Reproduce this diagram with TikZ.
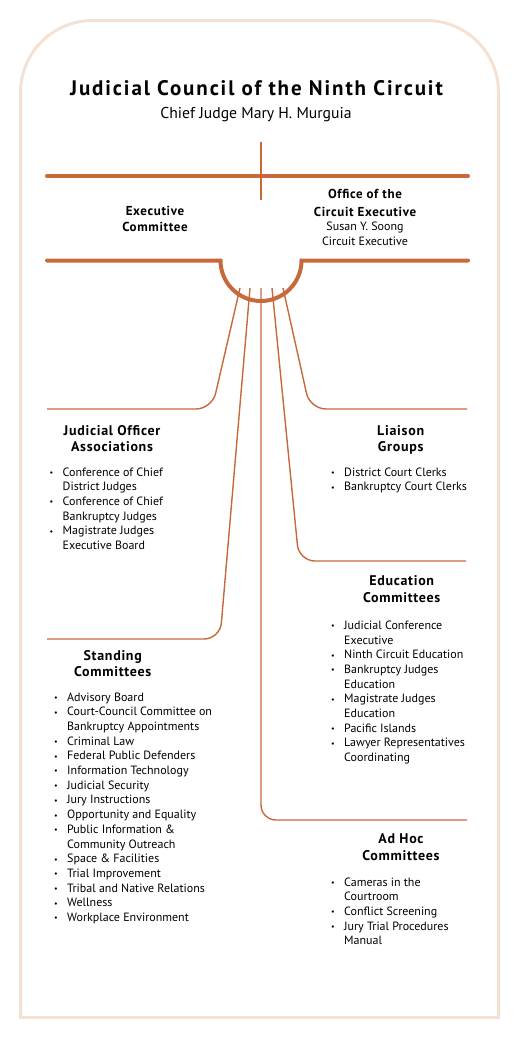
\documentclass[tikz,border=0pt]{standalone}
\usepackage{fontspec}
\setmainfont{PT Sans}
\newfontfamily\headfont{PT Sans}[LetterSpace=5]
\newfontfamily\titlefont{PT Sans}[LetterSpace=9]
\usetikzlibrary{positioning}
\definecolor{rust}{HTML}{C8693A}
\definecolor{peach}{HTML}{F3E2D4}
\newcommand{\bul}{\makebox[13pt][l]{\raisebox{0.6pt}{\fontsize{8}{8}\selectfont\textbullet}}}
\newcommand{\orglist}[1]{\begin{tabular}[t]{@{}l@{}l@{}}#1\end{tabular}}
\newcommand{\orghead}[1]{\begin{tabular}[t]{@{}c@{}}#1\end{tabular}}
\tikzset{
	headtext/.style={font=\headfont\fontsize{14}{16.8}\selectfont\bfseries, anchor=base, inner sep=0pt}
}
\tikzset{
	listtext/.style={font=\fontsize{12}{14.7}\selectfont, anchor=base west, inner sep=0pt}
}
\tikzset{
	thickrule/.style={draw=rust, line width=4pt, line cap=round}
}
\tikzset{
	branch/.style={draw=rust, line width=1.4pt, rounded corners=16pt}
}
\begin{document}
\begin{tikzpicture}[x=1pt,y=-1pt]
\useasboundingbox (0,0) rectangle (526,1063);

% frame
\draw[peach, line width=3pt, rounded corners=72pt] (20.5,1017.5) -- (20.5,20.5) -- (498.5,20.5) -- (498.5,1017.5);
\draw[peach, line width=3pt, line cap=rect] (20.5,1017.5) -- (498.5,1017.5);

\node[font=\titlefont\fontsize{21}{24}\selectfont\bfseries, anchor=base, inner sep=0pt] (council) at (256.5,95) {Judicial Council of the Ninth Circuit};
\node[font=\fontsize{15.7}{18}\selectfont, anchor=base, inner sep=0pt] (chief) at (256,118.3) {Chief Judge Mary H. Murguia};

\coordinate (stemT) at (261,142);
\coordinate (stemB) at (261,200);
\coordinate (ruleAw) at (47,176);
\coordinate (ruleAe) at (468,176);
\draw[rust, line width=1.4pt] (stemT) -- (stemB);
\draw[thickrule] (ruleAw) -- (ruleAe);

\node[headtext, font=\headfont\fontsize{13}{16.7}\selectfont\bfseries] (exec) at (155,215) {\orghead{Executive\\Committee}};
\node[headtext, font=\headfont\fontsize{13}{17.3}\selectfont\bfseries] (office) at (365,198.7) {\orghead{Office of the\\Circuit Executive\\[-2.6pt]
  {\normalfont\fontsize{12}{14.7}\selectfont Susan Y. Soong}\\[-2.6pt]
  {\normalfont\fontsize{12}{14.7}\selectfont Circuit Executive}}};

\coordinate (ruleBw) at (47,260.5);
\coordinate (cupL) at (220.5,260.5);
\coordinate (ruleBe) at (468,260.5);
\draw[thickrule] (ruleBw) -- (cupL) arc[start angle=180, end angle=360, radius=40.5pt] -- (ruleBe);

\coordinate (hA) at (240,288);
\coordinate (hB) at (250,288);
\coordinate (hC) at (261,288);
\coordinate (hD) at (272,288);
\coordinate (hE) at (283,288);
\coordinate (kA) at (212,409);
\coordinate (kB) at (220,639);
\coordinate (kC) at (261,820);
\coordinate (kD) at (299,561);
\coordinate (kE) at (310,409);
\coordinate (eA) at (47,409);
\coordinate (eB) at (47,639);
\coordinate (eC) at (467,820);
\coordinate (eD) at (466,561);
\coordinate (eE) at (467,409);

\draw[branch] (hA) -- (kA) -- (eA);
\draw[branch] (hB) -- (kB) -- (eB);
\draw[branch, rounded corners=15pt] (hC) -- (kC) -- (eC);
\draw[branch] (hD) -- (kD) -- (eD);
\draw[branch] (hE) -- (kE) -- (eE);

\node[headtext] (joaHead) at (112,435) {\orghead{Judicial Officer\\Associations}};
\node[listtext] (joaList) at (49.5,476) {\orglist{\bul & Conference of Chief\\ & District Judges\\ \bul & Conference of Chief\\ & Bankruptcy Judges\\ \bul & Magistrate Judges\\ & Executive Board}};

\node[headtext] (liaHead) at (400.7,435) {\orghead{Liaison\\Groups}};
\node[listtext] (liaList) at (331,476) {\orglist{\bul & District Court Clerks\\ \bul & Bankruptcy Court Clerks}};

\node[headtext] (eduHead) at (401.7,585.7) {\orghead{Education\\Committees}};
\node[listtext] (eduList) at (331,629.3) {\orglist{\bul & Judicial Conference\\ & Executive\\ \bul & Ninth Circuit Education\\ \bul & Bankruptcy Judges\\ & Education\\ \bul & Magistrate Judges\\ & Education\\ \bul & Pacific Islands\\ \bul & Lawyer Representatives\\ & Coordinating}};

\node[headtext] (stdHead) at (112.7,660) {\orghead{Standing\\Committees}};
\node[listtext] (stdList) at (54,701) {\orglist{\bul & Advisory Board\\ \bul & Court-Council Committee on\\ & Bankruptcy Appointments\\ \bul & Criminal Law\\ \bul & Federal Public Defenders\\ \bul & Information Technology\\ \bul & Judicial Security\\ \bul & Jury Instructions\\ \bul & Opportunity and Equality\\ \bul & Public Information \&\\ & Community Outreach\\ \bul & Space \& Facilities\\ \bul & Trial Improvement\\ \bul & Tribal and Native Relations\\ \bul & Wellness\\ \bul & Workplace Environment}};

\node[headtext] (adhHead) at (401,843.3) {\orghead{Ad Hoc\\Committees}};
\node[listtext] (adhList) at (331,886) {\orglist{\bul & Cameras in the\\ & Courtroom\\ \bul & Conflict Screening\\ \bul & Jury Trial Procedures\\ & Manual}};

\end{tikzpicture}
\end{document}
